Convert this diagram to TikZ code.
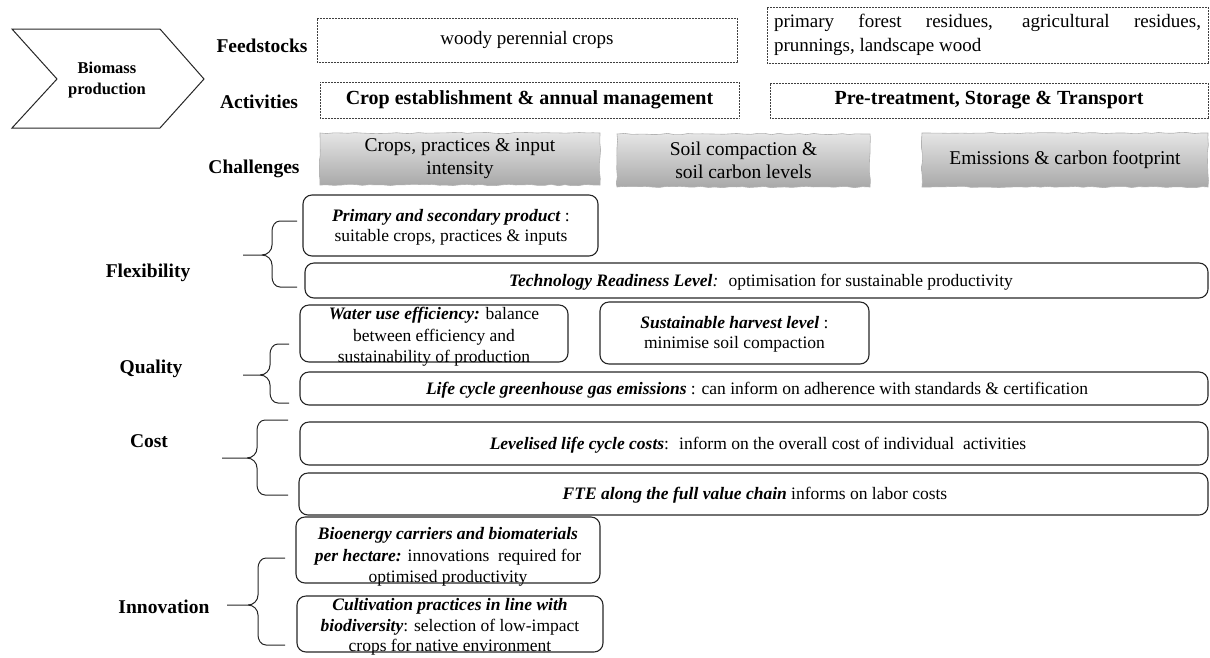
\documentclass[tikz,border=0pt]{standalone}
\usepackage{fontspec}
\setmainfont{Liberation Serif}
\usetikzlibrary{decorations.pathmorphing}

\newcommand{\bi}[1]{\textbf{\textit{#1}}}

\begin{document}
\begin{tikzpicture}[x=1pt,y=-1pt,
  lbl/.style={font=\fontsize{19.5}{22}\selectfont\bfseries, inner sep=0pt},
  feedbox/.style={draw=black!75, dash pattern=on 0.7pt off 0.8pt, line width=0.7pt, inner sep=0pt},
  actbox/.style={feedbox, font=\fontsize{20}{23}\selectfont\bfseries},
  chalbox/.style={top color=black!10, bottom color=black!34, draw=black!30, line width=0.6pt,
    decorate, decoration={random steps, segment length=7pt, amplitude=0.7pt},
    align=center, inner sep=0pt, font=\fontsize{19.5}{23}\selectfont},
  rbox/.style={draw=black!85, line width=1.1pt, rounded corners=9pt, inner sep=0pt},
  rtext/.style={align=center, inner sep=0pt, font=\fontsize{17.5}{21}\selectfont},
  brace/.style={draw=black!85, line width=1pt}
]
\pgfmathsetseed{7}
\useasboundingbox (0,0) rectangle (1210,657);

% value-chain stage
\draw[line width=1pt, black!85] (12,29) -- (160,29) -- (204,79) -- (160,128) -- (12,128) -- (57,79) -- cycle;
\node[font=\fontsize{16.5}{21}\selectfont\bfseries, align=center, inner sep=0pt] (stage) at (107,80) {Biomass\\production};

% row labels
\node[lbl] (lfeed) at (262,46) {Feedstocks};
\node[lbl] (lact)  at (259,102) {Activities};
\node[lbl] (lchal) at (254,169) {Challenges};

% feedstocks
\node[feedbox, minimum width=420pt, minimum height=44pt, font=\fontsize{19}{22}\selectfont] (fs1) at (527,40) {woody\ perennial\ crops};
\node[feedbox, minimum width=441pt, minimum height=56pt, inner xsep=7pt, text width=427pt, align=justify,
  font=\fontsize{19}{24}\selectfont] (fs2) at (987.5,35)
  {primary forest residues, agricultural residues,\linebreak prunnings, landscape wood};

% activities
\node[actbox, minimum width=419pt, minimum height=36pt] (act1) at (529.5,100) {Crop establishment \& annual management};
\node[actbox, minimum width=438pt, minimum height=35pt] (act2) at (989,100.5) {Pre-treatment, Storage \& Transport};

% challenges
\node[chalbox, minimum width=280pt, minimum height=52pt] (ch1) at (460,159) {Crops, practices \& input\\intensity};
\node[chalbox, minimum width=253pt, minimum height=53pt] (ch2) at (743.5,160.5) {Soil compaction \&\\soil carbon levels};
\node[chalbox, minimum width=286pt, minimum height=54pt] (ch3) at (1065,160) {Emissions \& carbon footprint};

% criteria labels
\node[lbl] (lflex) at (148,273) {Flexibility};
\node[lbl] (lqual) at (151,369) {Quality};
\node[lbl] (lcost) at (149,441) {Cost};
\node[lbl] (linno) at (164,607) {Innovation};

% braces: arm end x, top y, spine x, tip x, tip y, bottom y
\newcommand{\critbrace}[6]{%
  \draw[brace] (#1,#2) -- (#3+8,#2) to[out=180,in=90] (#3,#2+10) -- (#3,#5-10)
    to[out=-90,in=0] (#3-10,#5) -- (#4,#5);
  \draw[brace] (#3-10,#5) to[out=0,in=90] (#3,#5+10) -- (#3,#6-10)
    to[out=-90,in=180] (#3+8,#6) -- (#1,#6);}
\critbrace{297}{221}{272}{243}{255}{287}
\critbrace{289}{344}{270}{243}{375}{403}
\critbrace{288}{420}{257}{222}{458}{495}
\critbrace{285}{558}{258}{227}{605}{645}

% flexibility
\node[rbox, minimum width=295pt, minimum height=61pt] (prim) at (450.5,225.5) {};
\node[rtext, font=\fontsize{17.5}{20}\selectfont] (primT) at (451,227) {\bi{Primary and secondary product}~:\\suitable crops, practices \& inputs};
\node[rbox, minimum width=903pt, minimum height=35pt] (trl) at (756.5,280.5) {};
\node[rtext] (trlT) at (761,282) {\bi{Technology Readiness Level}\textit{:}~ optimisation for sustainable productivity};

% quality
\node[rbox, minimum width=268pt, minimum height=57pt] (wue) at (434,333.5) {};
\node[rtext, font=\fontsize{17.5}{21.5}\selectfont] (wueT) at (434,337) {\bi{Water use efficiency:} balance\\between efficiency and\\sustainability of production};
\node[rbox, minimum width=269pt, minimum height=62pt] (harv) at (734.5,333) {};
\node[rtext, font=\fontsize{17.5}{20}\selectfont] (harvT) at (734.5,334) {\bi{Sustainable harvest level}~:\\minimise soil compaction};
\node[rbox, minimum width=908pt, minimum height=33pt] (ghg) at (754,388.5) {};
\node[rtext] (ghgT) at (757,390) {\bi{Life cycle greenhouse gas emissions}~: can inform on adherence with standards \& certification};

% cost
\node[rbox, minimum width=908pt, minimum height=43pt] (llcc) at (754,443.5) {};
\node[rtext] (llccT) at (758,445) {\bi{Levelised life cycle costs}:~ inform on the overall cost of individual~ activities};
\node[rbox, minimum width=909pt, minimum height=42pt] (fte) at (753.5,494) {};
\node[rtext] (fteT) at (755,495.5) {\bi{FTE along the full value chain} informs on labor costs};

% innovation
\node[rbox, minimum width=304pt, minimum height=66pt] (bio) at (448,550) {};
\node[rtext, font=\fontsize{17.5}{21.5}\selectfont] (bioT) at (448,557) {\bi{Bioenergy carriers and biomaterials}\\\bi{per hectare:} innovations~ required for\\optimised productivity};
\node[rbox, minimum width=306pt, minimum height=56pt] (cult) at (450,624) {};
\node[rtext, font=\fontsize{17.5}{20.5}\selectfont] (cultT) at (450,627) {\bi{Cultivation practices in line with}\\\bi{biodiversity}: selection of low-impact\\crops for native environment};
\end{tikzpicture}
\end{document}
